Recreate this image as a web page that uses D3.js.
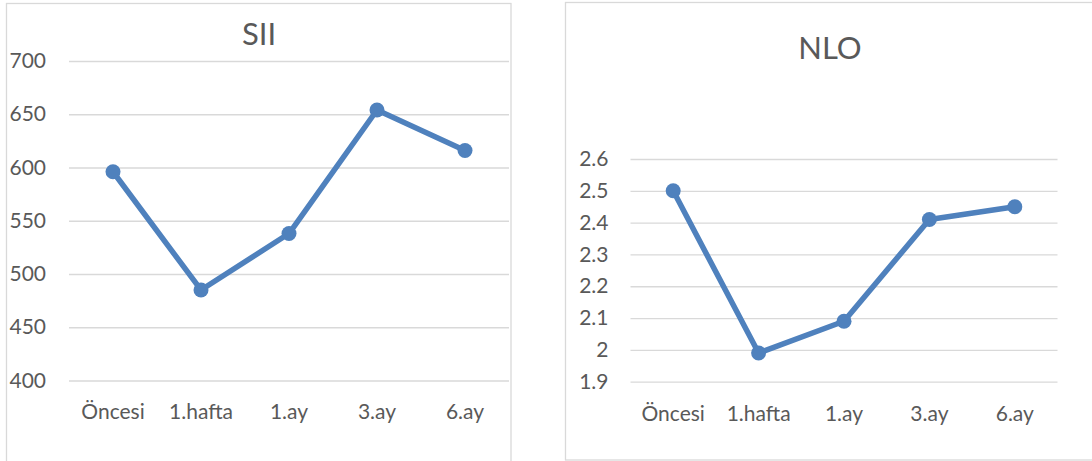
<!DOCTYPE html>
<html>
<head>
<meta charset="utf-8">
<script src="https://cdn.jsdelivr.net/npm/d3@7"></script>
<style>
  html, body { margin: 0; padding: 0; background: #ffffff; }
  svg { display: block; }
  text { font-family: Lato, "Open Sans", sans-serif; fill: #595959; }
</style>
</head>
<body>
<svg id="chart" width="1092" height="461"></svg>
<script>
// Measurement periods shared by both panels
const categories = ["Öncesi", "1.hafta", "1.ay", "3.ay", "6.ay"];

// SII values per period
const siiValues = [596, 485, 538, 654, 616];
const siiTicks = [400, 450, 500, 550, 600, 650, 700];

// NLO values per period
const nloValues = [2.50, 1.99, 2.09, 2.41, 2.45];
const nloTicks = [1.9, 2.0, 2.1, 2.2, 2.3, 2.4, 2.5, 2.6];

const svg = d3.select("#chart");
const lineColor = "#4f81bd";
const gridColor = "#d9d9d9";

function drawPanel(cfg) {
  const g = svg.append("g");

  // chart frame
  g.append("rect")
    .attr("x", cfg.frame[0]).attr("y", cfg.frame[1])
    .attr("width", cfg.frame[2]).attr("height", cfg.frame[3])
    .attr("fill", "#ffffff")
    .attr("stroke", gridColor)
    .attr("stroke-width", 1.3);

  // title
  g.append("text")
    .attr("x", cfg.titleX).attr("y", cfg.titleY)
    .attr("text-anchor", "middle")
    .style("font-size", "31px")
    .text(cfg.title);

  const x = d3.scaleBand().domain(categories).range(cfg.xRange).padding(0);
  const y = d3.scaleLinear().domain(cfg.domain).range(cfg.yRange);

  // value axis with horizontal gridlines
  const yAxis = d3.axisLeft(y)
    .tickValues(cfg.ticks)
    .tickFormat(cfg.format)
    .tickSizeInner(-(cfg.xRange[1] - cfg.xRange[0]))
    .tickSizeOuter(0)
    .tickPadding(cfg.labelPad);

  const ya = g.append("g")
    .attr("transform", `translate(${cfg.xRange[0]},0)`)
    .call(yAxis);
  ya.select(".domain").remove();
  ya.selectAll(".tick line").attr("stroke", gridColor).attr("stroke-width", 1.3);
  ya.selectAll(".tick text")
    .style("font-size", "21px")
    .style("font-family", "Lato, sans-serif")
    .attr("fill", "#595959");

  // category labels
  const xAxis = d3.axisBottom(x).tickSize(0).tickPadding(0);
  const xa = g.append("g")
    .attr("transform", `translate(0,${cfg.xLabelY})`)
    .call(xAxis);
  xa.select(".domain").remove();
  xa.selectAll(".tick text")
    .attr("dy", "0")
    .attr("y", 0)
    .style("font-size", "21px")
    .style("font-family", "Lato, sans-serif")
    .attr("fill", "#595959");

  const cx = d => x(d) + x.bandwidth() / 2;
  const pts = categories.map((c, i) => ({ c, v: cfg.values[i] }));

  // series line
  g.append("path")
    .datum(pts)
    .attr("fill", "none")
    .attr("stroke", lineColor)
    .attr("stroke-width", 5.5)
    .attr("stroke-linejoin", "round")
    .attr("d", d3.line().x(d => cx(d.c)).y(d => y(d.v)));

  // markers
  g.selectAll("circle.pt")
    .data(pts)
    .join("circle")
    .attr("class", "pt")
    .attr("cx", d => cx(d.c))
    .attr("cy", d => y(d.v))
    .attr("r", 7.5)
    .attr("fill", lineColor);
}

drawPanel({
  title: "SII",
  frame: [6.5, 3.5, 504.5, 470],
  titleX: 259, titleY: 45,
  xRange: [69, 509],
  yRange: [380.5, 61],
  domain: [400, 700],
  ticks: siiTicks,
  format: d3.format("d"),
  labelPad: 23,
  values: siiValues,
  xLabelY: 419
});

drawPanel({
  title: "NLO",
  frame: [565.5, 2.5, 540, 457.5],
  titleX: 830, titleY: 59,
  xRange: [630.5, 1057.5],
  yRange: [381.7, 159],
  domain: [1.9, 2.6],
  ticks: nloTicks,
  format: d => d3.format("")(+d.toFixed(1)),
  labelPad: 22,
  values: nloValues,
  xLabelY: 421
});
</script>
</body>
</html>
